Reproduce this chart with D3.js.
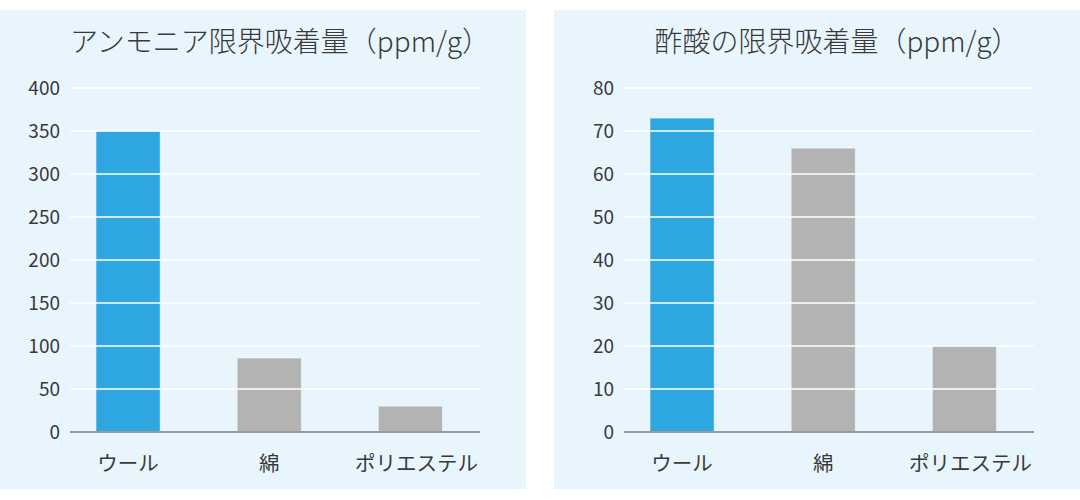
<!DOCTYPE html>
<html>
<head>
<meta charset="utf-8">
<script src="https://cdn.jsdelivr.net/npm/d3@7.9.0/dist/d3.min.js"></script>
<style>
  html, body { margin: 0; padding: 0; background: #fff; }
  svg { display: block; }
  text { font-family: "Noto Sans CJK JP", "Noto Sans", sans-serif; fill: #3a3a3a; }
</style>
</head>
<body>
<svg id="chart" width="1080" height="500"></svg>
<script>
// data
const categories = ['ウール', '綿', 'ポリエステル'];
const ammoniaValues = [350, 86, 30];
const aceticValues = [73, 66, 20];
const ammoniaTicks = [0, 50, 100, 150, 200, 250, 300, 350, 400];
const aceticTicks = [0, 10, 20, 30, 40, 50, 60, 70, 80];
const barColors = ['#2ea6e0', '#b3b3b3', '#b3b3b3'];

const panels = [
  { title: 'アンモニア限界吸着量（ppm/g）', values: ammoniaValues, ticks: ammoniaTicks, max: 400, x0: 0, w: 526, titleX: 280 },
  { title: '酢酸の限界吸着量（ppm/g）', values: aceticValues, ticks: aceticTicks, max: 80, x0: 554, w: 526, titleX: 283 }
];

const svg = d3.select('#chart');

panels.forEach(p => {
  const g = svg.append('g').attr('transform', `translate(${p.x0},0)`);

  g.append('rect')
    .attr('x', 0).attr('y', 10)
    .attr('width', p.w).attr('height', 479)
    .attr('fill', '#e8f5fd');

  const x = d3.scaleBand()
    .domain(categories)
    .range([57.5, 481])
    .paddingInner(0.546)
    .paddingOuter(0.273);

  const y = d3.scaleLinear()
    .domain([0, p.max])
    .range([432, 88]);

  // bars
  g.selectAll('rect.bar')
    .data(p.values)
    .join('rect')
    .attr('class', 'bar')
    .attr('x', (d, i) => x(categories[i]))
    .attr('y', d => y(d))
    .attr('width', x.bandwidth())
    .attr('height', d => y(0) - y(d))
    .attr('fill', (d, i) => barColors[i])
    .attr('stroke', 'rgba(255,255,255,0.45)')
    .attr('stroke-width', 1);

  // gridlines drawn over the bars
  g.selectAll('line.grid')
    .data(p.ticks.filter(t => t > 0))
    .join('line')
    .attr('class', 'grid')
    .attr('x1', 70).attr('x2', 480)
    .attr('y1', d => y(d)).attr('y2', d => y(d))
    .attr('stroke', '#ffffff')
    .attr('stroke-width', 1.5);

  // baseline
  g.append('line')
    .attr('x1', 70).attr('x2', 480)
    .attr('y1', y(0)).attr('y2', y(0))
    .attr('stroke', '#9a9a9a')
    .attr('stroke-width', 2);

  // y tick labels
  g.selectAll('text.ytick')
    .data(p.ticks)
    .join('text')
    .attr('class', 'ytick')
    .attr('x', 60)
    .attr('y', d => y(d))
    .attr('dy', '0.36em')
    .attr('text-anchor', 'end')
    .attr('font-size', 19)
    .text(d => d);

  // category labels
  g.selectAll('text.xtick')
    .data(categories)
    .join('text')
    .attr('class', 'xtick')
    .attr('x', d => x(d) + x.bandwidth() / 2 + (d === 'ポリエステル' ? 6 : 0))
    .attr('y', 471)
    .attr('text-anchor', 'middle')
    .attr('font-size', 20.5)
    .text(d => d);

  g.append('text')
    .attr('x', p.titleX)
    .attr('y', 52)
    .attr('text-anchor', 'middle')
    .attr('font-size', 28)
    .attr('font-weight', 300)
    .text(p.title);
});
</script>
</body>
</html>
